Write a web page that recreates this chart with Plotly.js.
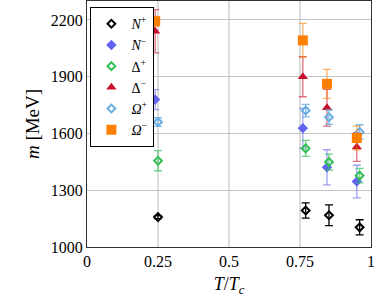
<!DOCTYPE html>
<html>
<head>
<meta charset="utf-8">
<script src="https://cdn.plot.ly/plotly-3.0.1.min.js"></script>
<style>html,body{margin:0;padding:0;background:#fff;}#chart{width:382px;height:306px;}</style>
</head>
<body>
<div id="chart"></div>
<script>
// T/Tc positions (filled markers: negative parity; open markers: positive parity, slightly shifted)
const xNeg = [0.24, 0.76, 0.845, 0.95];
const xPos = [0.25, 0.77, 0.852, 0.96];

// masses [MeV] and errors
const Nplus = [1158, 1193, 1168, 1104];
const errNplus = [8, 40, 55, 40];
const Nminus = [1779, 1628, 1421, 1346];
const errNminus = [53, 105, 93, 86];
const DeltaPlus = [1456, 1521, 1449, 1377];
const errDeltaPlus = [53, 42, 42, 38];
const DeltaMinus = [2140, 1900, 1736, 1528];
const errDeltaMinus = [114, 106, 97, 76];
const OmegaPlus = [1660, 1721, 1686, 1608];
const errOmegaPlus = [23, 33, 38, 38];
const OmegaMinus = [2193, 2092, 1862, 1576];
const errOmegaMinus = [25, 90, 77, 63];

const names = ['<i>N</i><sup>+</sup>', '<i>N</i><sup>−</sup>', 'Δ<sup>+</sup>', 'Δ<sup>−</sup>', '<i>Ω</i><sup>+</sup>', '<i>Ω</i><sup>−</sup>'];
const yTicks = [1000, 1300, 1600, 1900, 2200];
const xTicks = [0, 0.25, 0.5, 0.75, 1];
const xTickText = ['0', '0.25', '0.5', '0.75', '1'];

function tr(x, y, e, name, color, ecolor, symbol, size, lw) {
  return {
    type: 'scatter', mode: 'markers', x: x, y: y, name: name,
    marker: {symbol: symbol, size: size, color: color, line: {color: color, width: lw}},
    error_y: {type: 'data', array: e, visible: true, color: ecolor, thickness: 1.3, width: 4}
  };
}

const data = [
  tr(xPos, Nplus, errNplus, names[0], '#000000', '#000000', 'diamond-open', 6, 2),
  tr(xNeg, Nminus, errNminus, names[1], '#6363f2', 'rgba(99,99,242,0.6)', 'diamond', 8, 0),
  tr(xPos, DeltaPlus, errDeltaPlus, names[2], '#2fbf55', 'rgba(47,191,85,0.7)', 'diamond-open', 6, 2),
  tr(xNeg, DeltaMinus, errDeltaMinus, names[3], '#c8102e', 'rgba(200,16,46,0.6)', 'triangle-up', 9, 0),
  tr(xPos, OmegaPlus, errOmegaPlus, names[4], '#6aaee0', 'rgba(106,174,224,0.85)', 'diamond-open', 6, 2),
  tr(xNeg, OmegaMinus, errOmegaMinus, names[5], '#ff8000', 'rgba(255,128,0,0.6)', 'square', 10, 0)
];

const font = {family: 'Liberation Serif, DejaVu Serif, serif', size: 16, color: '#000'};

const layout = {
  width: 382, height: 306,
  margin: {l: 87, r: 11, t: 1, b: 59},
  paper_bgcolor: '#fff', plot_bgcolor: '#fff',
  font: font,
  showlegend: true,
  legend: {
    x: 0.012, y: 0.975, xanchor: 'left', yanchor: 'top',
    bgcolor: '#fff', bordercolor: '#000', borderwidth: 1,
    font: {family: font.family, size: 14, color: '#000'},
    itemwidth: 30, tracegroupgap: 0
  },
  xaxis: {
    range: [0, 1], tickvals: xTicks, ticktext: xTickText,
    showgrid: true, gridcolor: '#dcdcdc', gridwidth: 2,
    zeroline: false, showline: true, linecolor: '#333', linewidth: 1, mirror: true,
    ticks: '', tickfont: {family: font.family, size: 16},
    title: {text: '<i>T</i>/<i>T<sub>c</sub></i>', font: {family: font.family, size: 18}, standoff: 8}
  },
  yaxis: {
    range: [1000, 2300], tickvals: yTicks,
    showgrid: true, gridcolor: '#c4c4c4', gridwidth: 1,
    zeroline: false, showline: true, linecolor: '#333', linewidth: 1, mirror: true,
    ticks: '', tickfont: {family: font.family, size: 16},
    title: {text: '<i>m</i> [MeV]', font: {family: font.family, size: 19}, standoff: 6}
  }
};

Plotly.newPlot('chart', data, layout, {displayModeBar: false, staticPlot: true});
</script>
</body>
</html>
